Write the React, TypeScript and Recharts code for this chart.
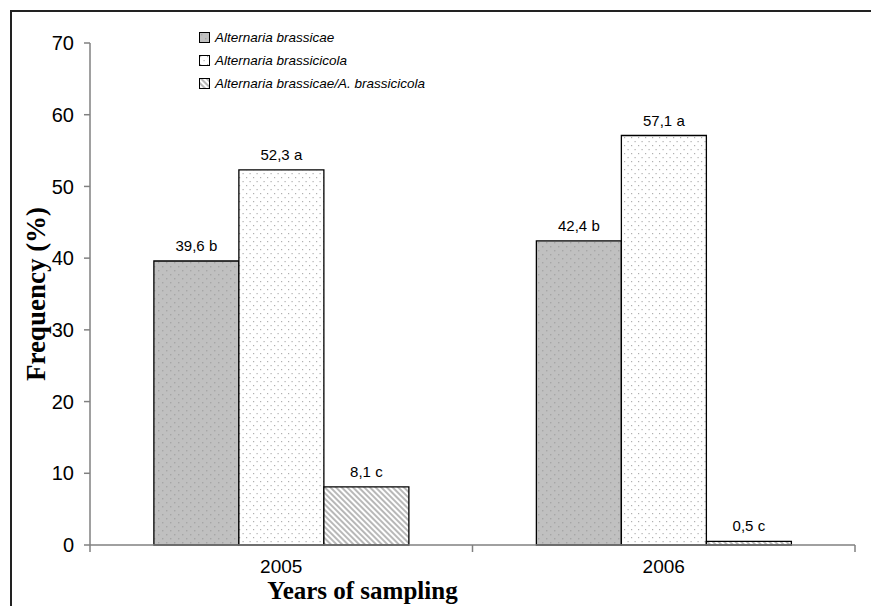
import React from 'react';
import { Bar, BarChart, LabelList, XAxis, YAxis } from 'recharts';

// data
const years = ['2005', '2006'];
const brassicae = [39.6, 42.4];
const brassicicola = [52.3, 57.1];
const mixed = [8.1, 0.5];
const brassicaeLetters = ['b', 'b'];
const brassicicolaLetters = ['a', 'a'];
const mixedLetters = ['c', 'c'];
const yTicks = [0, 10, 20, 30, 40, 50, 60, 70];

const seriesNames = [
  'Alternaria brassicae',
  'Alternaria brassicicola',
  'Alternaria brassicae/A. brassicicola',
];
const seriesFills = ['url(#dotsGray)', 'url(#dotsWhite)', 'url(#hatch)'];

const sans = "'Liberation Sans', Arial, sans-serif";
const serif = "'Liberation Serif', 'Times New Roman', serif";

const fmt = (v: number, letter: string) => `${v.toFixed(1).replace('.', ',')} ${letter}`;

const data = years.map((year, i) => ({
  year,
  brassicae: brassicae[i],
  brassicicola: brassicicola[i],
  mixed: mixed[i],
  brassicaeLabel: fmt(brassicae[i], brassicaeLetters[i]),
  brassicicolaLabel: fmt(brassicicola[i], brassicicolaLetters[i]),
  mixedLabel: fmt(mixed[i], mixedLetters[i]),
}));

const W = 871;
const H = 606;
const margin = { top: 43, right: 16, left: 10, bottom: 0 };
const yAxisWidth = 80;
const halfBand = (W - margin.left - margin.right - yAxisWidth) / years.length / 2;

const YearTick = (props: any) => {
  const { x, y, payload, index } = props;
  return (
    <g>
      {index === 0 && (
        <line x1={x - halfBand} x2={x - halfBand} y1={y - 8} y2={y - 1} stroke="#808080" strokeWidth={1.5} />
      )}
      <line x1={x + halfBand} x2={x + halfBand} y1={y - 8} y2={y - 1} stroke="#808080" strokeWidth={1.5} />
      <text x={x} y={y} dy={20} textAnchor="middle" fontSize={19} fontFamily={sans} fill="#000">
        {payload.value}
      </text>
    </g>
  );
};

export default function App() {
  return (
    <div style={{ position: 'absolute', left: 0, top: 0, width: W, height: H, overflow: 'hidden', background: '#fff' }}>
      <div
        style={{
          position: 'absolute',
          left: 10,
          top: 10,
          width: 900,
          height: 700,
          borderLeft: '2px solid #222',
          borderTop: '2px solid #222',
        }}
      />
      <BarChart
        width={W}
        height={H}
        data={data}
        margin={margin}
        barCategoryGap="16.7%"
        barGap={0}
        style={{ position: 'absolute', left: 0, top: 0 }}
      >
        <defs>
          <pattern id="dotsGray" width="8" height="8" patternUnits="userSpaceOnUse">
            <rect width="8" height="8" fill="#c0c0c0" />
            <rect x="2" y="2" width="1.4" height="1.4" fill="#a6a6a6" />
            <rect x="6" y="6" width="1.4" height="1.4" fill="#a6a6a6" />
          </pattern>
          <pattern id="dotsWhite" width="7" height="8" patternUnits="userSpaceOnUse">
            <rect width="7" height="8" fill="#fff" />
            <rect x="1" y="1" width="1.2" height="1.2" fill="#b0b0b0" />
            <rect x="4.5" y="5" width="1.2" height="1.2" fill="#b0b0b0" />
          </pattern>
          <pattern id="hatch" width="4" height="4" patternUnits="userSpaceOnUse" patternTransform="rotate(-45)">
            <rect width="4" height="4" fill="#fff" />
            <line x1="1" y1="0" x2="1" y2="4" stroke="#a0a0a0" strokeWidth="1.5" />
          </pattern>
        </defs>
        <XAxis
          dataKey="year"
          height={61}
          axisLine={{ stroke: '#808080', strokeWidth: 1.5 }}
          tickLine={false}
          tick={<YearTick />}
          interval={0}
          label={{
            value: 'Years of sampling',
            position: 'insideBottom',
            offset: 7,
            dx: -110,
            style: { fontFamily: serif, fontWeight: 'bold', fontSize: 25, fill: '#000' },
          }}
        />
        <YAxis
          width={yAxisWidth}
          domain={[0, 70]}
          ticks={yTicks}
          interval={0}
          tickSize={6}
          tickMargin={10}
          axisLine={{ stroke: '#808080', strokeWidth: 1.5 }}
          tickLine={{ stroke: '#808080', strokeWidth: 1.5 }}
          tick={{ fontSize: 20, fill: '#000', fontFamily: sans }}
          label={{
            value: 'Frequency (%)',
            angle: -90,
            position: 'insideLeft',
            offset: 25,
            style: {
              textAnchor: 'middle',
              fontFamily: serif,
              fontWeight: 'bold',
              fontSize: 27,
              fill: '#000',
            },
          }}
        />
        <Bar dataKey="brassicae" fill={seriesFills[0]} stroke="#000" strokeWidth={1.3} isAnimationActive={false}>
          <LabelList dataKey="brassicaeLabel" position="top" offset={10} fontSize={15} fill="#000" fontFamily={sans} />
        </Bar>
        <Bar dataKey="brassicicola" fill={seriesFills[1]} stroke="#000" strokeWidth={1.3} isAnimationActive={false}>
          <LabelList dataKey="brassicicolaLabel" position="top" offset={10} fontSize={15} fill="#000" fontFamily={sans} />
        </Bar>
        <Bar dataKey="mixed" fill={seriesFills[2]} stroke="#000" strokeWidth={1.3} isAnimationActive={false}>
          <LabelList dataKey="mixedLabel" position="top" offset={10} fontSize={15} fill="#000" fontFamily={sans} />
        </Bar>
      </BarChart>
      {/* legend */}
      <div style={{ position: 'absolute', left: 199, top: 26, fontFamily: sans, fontStyle: 'italic', fontSize: 13.5 }}>
        {seriesNames.map((name, i) => (
          <div key={name} style={{ display: 'flex', alignItems: 'center', height: 23 }}>
            <svg width={12} height={12} style={{ marginRight: 4 }}>
              <rect x={0.5} y={0.5} width={10} height={10} fill={seriesFills[i]} stroke="#000" strokeWidth={1} />
            </svg>
            <span>{name}</span>
          </div>
        ))}
      </div>
    </div>
  );
}
